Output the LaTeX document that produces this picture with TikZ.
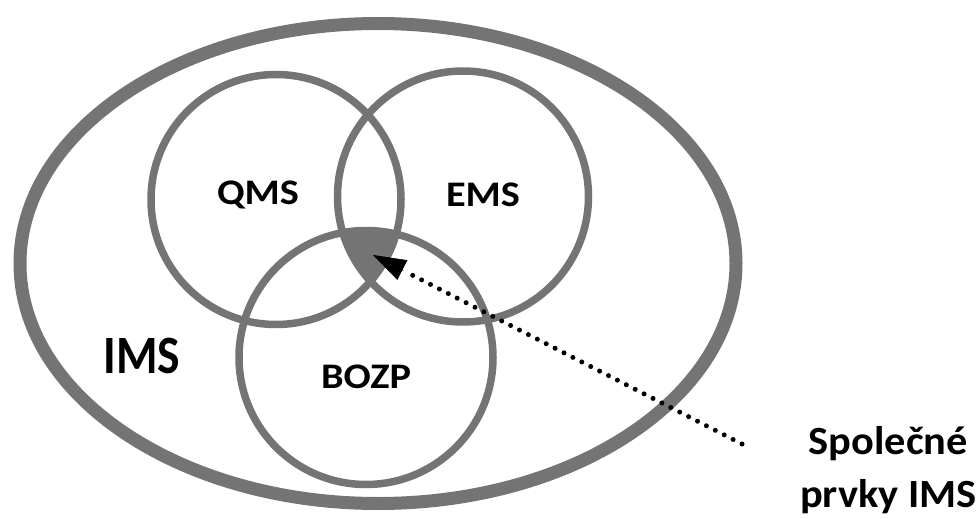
\documentclass[tikz,border=0pt]{standalone}
\usepackage{fontspec}
\usepackage{graphicx}
\setmainfont{Carlito}
\usetikzlibrary{arrows.meta,calc}
\definecolor{ringgray}{HTML}{747474}
\tikzset{
  ring/.style={circle, draw=ringgray, line width=7.5pt, inner sep=0pt, outer sep=0pt},
  lbl/.style={inner sep=0pt, font=\bfseries, text=black},
  dotmark/.style={fill=black},
  headarrow/.style={line width=0.5pt, -{Triangle[length=33pt,width=22pt]}}
}
\begin{document}
\begin{tikzpicture}[x=1pt,y=-1pt]
\useasboundingbox (0,0) rectangle (978,519);
% outer ellipse
\draw[ringgray, line width=13pt] (378,263.5) ellipse [x radius=358, y radius=240];
% triple intersection
\begin{scope}
  \clip (276,199.5) circle [radius=125];
  \clip (463,196.5) circle [radius=125.5];
  \fill[ringgray] (366,357.5) circle [radius=127];
\end{scope}
\node[ring, minimum size=250pt] (qmsc) at (276,199.5) {};
\node[ring, minimum size=251pt] (emsc) at (463,196.5) {};
\node[ring, minimum size=254pt] (bozpc) at (366,357.5) {};
% labels
\node[lbl, font=\bfseries\fontsize{36}{36}\selectfont] (qms) at (258,195) {\scalebox{1.12}[1]{QMS}};
\node[lbl, font=\bfseries\fontsize{36}{36}\selectfont] (ems) at (483,195) {\scalebox{1.12}[1]{EMS}};
\node[lbl, font=\bfseries\fontsize{36}{36}\selectfont] (bozp) at (366,377) {\scalebox{1.12}[1]{BOZP}};
\node[lbl, font=\bfseries\fontsize{54}{54}\selectfont] (ims) at (142,356) {\scalebox{0.88}[1]{IMS}};
\node[lbl, font=\bfseries\fontsize{40}{53}\selectfont, align=center, anchor=north east] (spol) at (977,426)
  {\scalebox{1.06}[1]{Společné}\\\scalebox{1.06}[1]{prvky IMS}};
% arrow
\coordinate (astart) at (742,444);
\coordinate (atip) at (373,255);
\foreach \d in {0,10,...,378}
  \fill[dotmark] ($(astart)!\d pt!(atip)$) circle [radius=2.5pt];
\draw[headarrow] ($(atip)!34pt!(astart)$) -- (atip);
\end{tikzpicture}
\end{document}
